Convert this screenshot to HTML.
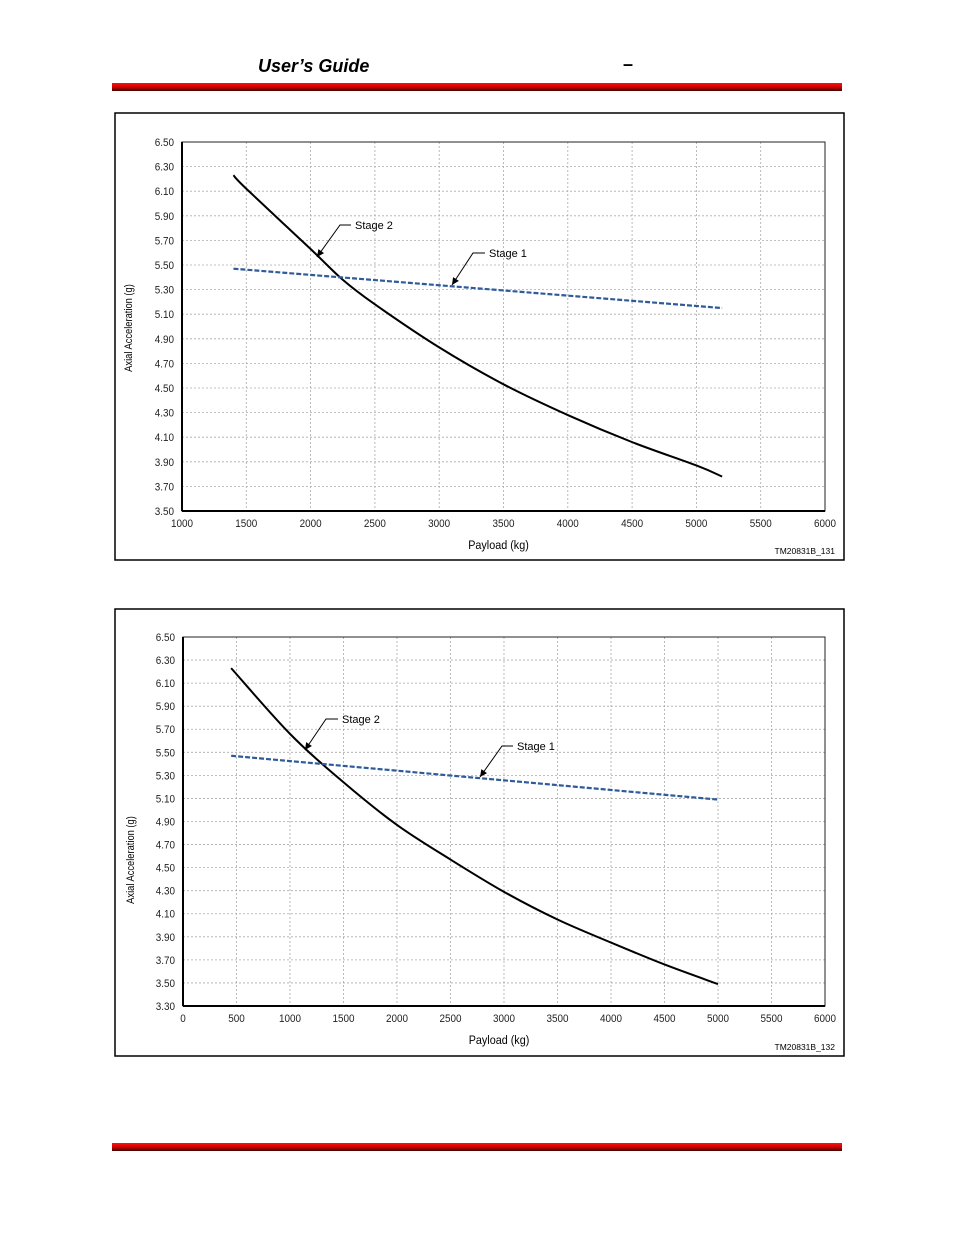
<!DOCTYPE html>
<html><head><meta charset="utf-8"><style>
body{margin:0;background:#fff;width:954px;height:1235px;position:relative;overflow:hidden;font-family:"Liberation Sans",sans-serif}
.bar{position:absolute;left:112px;width:730px;height:8px;background:linear-gradient(#ff1010,#d00000 50%,#400000)}
</style></head><body>
<div style="position:absolute;left:258px;top:56px;font:italic bold 18px 'Liberation Sans',sans-serif">User’s Guide</div>
<div style="position:absolute;left:623px;top:54px;font:bold 18px 'Liberation Sans',sans-serif">–</div>
<div class="bar" style="top:83px"></div>
<div class="bar" style="top:1143px"></div>
<svg id="s" width="954" height="1235" style="position:absolute;left:0;top:0"></svg>
<script>
// Chart 1 data
const c1Payload2=[1400,1500,2000,2250,2500,3000,3500,4000,4500,5000,5200];
const c1Stage2=[6.23,6.12,5.63,5.38,5.18,4.83,4.53,4.28,4.06,3.87,3.78];
const c1Payload1=[1400,5200];
const c1Stage1=[5.47,5.15];
const c1XTicks=[1000,1500,2000,2500,3000,3500,4000,4500,5000,5500,6000];
const c1YTicks=[3.50,3.70,3.90,4.10,4.30,4.50,4.70,4.90,5.10,5.30,5.50,5.70,5.90,6.10,6.30,6.50];
// Chart 2 data
const c2Payload2=[450,1000,1500,2000,2500,3000,3500,4000,4500,5000];
const c2Stage2=[6.23,5.66,5.24,4.87,4.57,4.29,4.05,3.85,3.66,3.49];
const c2Payload1=[450,5000];
const c2Stage1=[5.47,5.09];
const c2XTicks=[0,500,1000,1500,2000,2500,3000,3500,4000,4500,5000,5500,6000];
const c2YTicks=[3.30,3.50,3.70,3.90,4.10,4.30,4.50,4.70,4.90,5.10,5.30,5.50,5.70,5.90,6.10,6.30,6.50];

const NS='http://www.w3.org/2000/svg', svg=document.getElementById('s');
function mk(t,a,p){const e=document.createElementNS(NS,t);for(const k in a)e.setAttribute(k,a[k]);(p||svg).appendChild(e);return e;}
function smooth(pts){
  let d='M'+pts[0][0]+','+pts[0][1];
  for(let i=0;i<pts.length-1;i++){
    const p0=pts[Math.max(i-1,0)],p1=pts[i],p2=pts[i+1],p3=pts[Math.min(i+2,pts.length-1)];
    const c1x=p1[0]+(p2[0]-p0[0])/6,c1y=p1[1]+(p2[1]-p0[1])/6;
    const c2x=p2[0]-(p3[0]-p1[0])/6,c2y=p2[1]-(p3[1]-p1[1])/6;
    d+=` C${c1x},${c1y} ${c2x},${c2y} ${p2[0]},${p2[1]}`;
  }
  return d;
}
function chart(o){
  const g=mk('g',{});
  
  
  const box=mk('rect',{x:o.bx,y:o.by,width:729,height:447,fill:'none',stroke:'#000','stroke-width':1.5},g);
  
  
  const xs=v=>o.L+(v-o.xmin)/(o.xmax-o.xmin)*(o.R-o.L);
  const ys=v=>o.B-(v-o.ymin)/(o.ymax-o.ymin)*(o.B-o.T);
  o.yt.forEach(v=>{
    mk('line',{x1:o.L,x2:o.R,y1:ys(v),y2:ys(v),stroke:'#aaa','stroke-dasharray':'2,2','stroke-width':0.8},g);
    const t=mk('text',{x:o.L-8,y:ys(v)+4,'text-anchor':'end','font-size':11,fill:'#222',transform:`translate(${(o.L-8)*0.1},0) scale(0.9,1)`},g);
    t.textContent=v.toFixed(2);
    
    
  });
  o.xt.forEach(v=>{
    mk('line',{x1:xs(v),x2:xs(v),y1:o.T,y2:o.B,stroke:'#aaa','stroke-dasharray':'2,2','stroke-width':0.8},g);
    const t=mk('text',{x:xs(v),y:o.B+16,'text-anchor':'middle','font-size':11,fill:'#222',transform:`translate(${xs(v)*0.1},0) scale(0.9,1)`},g);
    t.textContent=v;
    
    
  });
  const pa=mk('rect',{x:o.L,y:o.T,width:o.R-o.L,height:o.B-o.T,fill:'none',stroke:'#222','stroke-width':1},g);
  
  
  mk('line',{x1:o.L,x2:o.R,y1:o.B,y2:o.B,stroke:'#000','stroke-width':2},g);
  mk('line',{x1:o.L,x2:o.L,y1:o.T,y2:o.B,stroke:'#000','stroke-width':2},g);
  const s2=mk('path',{d:smooth(o.p2.map((p,i)=>[xs(p),ys(o.s2[i])])),fill:'none',stroke:'#000','stroke-width':2},g);
  
  
  const s1=mk('polyline',{points:o.p1.map((p,i)=>xs(p)+','+ys(o.s1[i])).join(' '),fill:'none',stroke:'#2f5b9a','stroke-width':2.2,'stroke-dasharray':'5,2'},g);
  
  
  o.ann.forEach(a=>{
    mk('polyline',{points:`${a.tx-4},${a.ty} ${a.lx},${a.ty} ${a.ax},${a.ay}`,fill:'none',stroke:'#000','stroke-width':1},g);
    const ang=Math.atan2(a.ay-a.ty,a.ax-a.lx);
    const h=8,w=0.45;
    mk('polygon',{points:`${a.ax},${a.ay} ${a.ax-h*Math.cos(ang-w)},${a.ay-h*Math.sin(ang-w)} ${a.ax-h*Math.cos(ang+w)},${a.ay-h*Math.sin(ang+w)}`,fill:'#000'},g);
    const t=mk('text',{x:a.tx,y:a.ty+4,'font-size':11},g);
    t.textContent=a.label;
    
    
  });
  const yt=mk('text',{x:0,y:0,'text-anchor':'middle','font-size':11,transform:`translate(${o.ytx},${o.yty}) rotate(-90) scale(0.85,1)`},g);
  yt.textContent='Axial Acceleration (g)';
  
  
  const xt=mk('text',{x:0,y:0,'text-anchor':'middle','font-size':12,transform:`translate(${(o.L+o.R)/2-5},${o.B+38}) scale(0.9,1)`},g);
  xt.textContent='Payload (kg)';
  
  
  const c=mk('text',{x:o.bx+720,y:o.by+441,'text-anchor':'end','font-size':8.5},g);
  c.textContent=o.code;
  
  
}
chart({name:'chart-1',bx:115,by:113,L:182,R:825,T:142,B:511,xmin:1000,xmax:6000,ymin:3.5,ymax:6.5,xt:c1XTicks,yt:c1YTicks,
 p2:c1Payload2,s2:c1Stage2,p1:c1Payload1,s1:c1Stage1,ytx:132,yty:328,code:'TM20831B_131',
 ann:[{label:'Stage 2',tx:355,ty:225,lx:340,ax:317,ay:257},{label:'Stage 1',tx:489,ty:253,lx:473,ax:452,ay:285}]});
chart({name:'chart-2',bx:115,by:609,L:183,R:825,T:637,B:1006,xmin:0,xmax:6000,ymin:3.3,ymax:6.5,xt:c2XTicks,yt:c2YTicks,
 p2:c2Payload2,s2:c2Stage2,p1:c2Payload1,s1:c2Stage1,ytx:134,yty:860,code:'TM20831B_132',
 ann:[{label:'Stage 2',tx:342,ty:719,lx:326,ax:305,ay:750},{label:'Stage 1',tx:517,ty:746,lx:502,ax:480,ay:777}]});
</script>
</body></html>
